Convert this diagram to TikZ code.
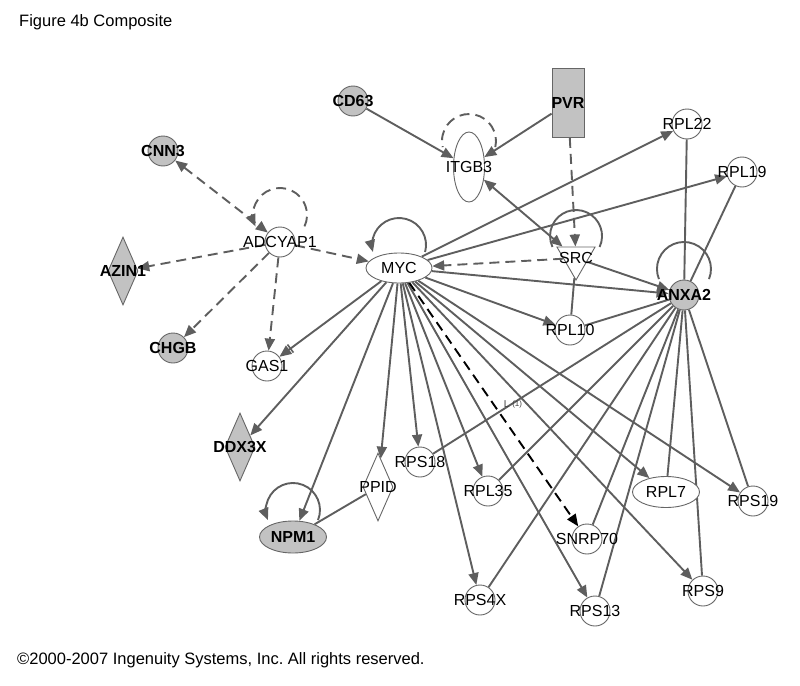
\documentclass[tikz,border=0pt]{standalone}
\usepackage{fontspec}
\setmainfont{Liberation Sans}
\usetikzlibrary{arrows.meta,shapes.geometric}
\pgfdeclarelayer{bg}
\pgfsetlayers{bg,main}
\definecolor{eg}{HTML}{5E5E5E}
\definecolor{ng}{HTML}{C2C2C2}
\definecolor{bd}{HTML}{666666}
\begin{document}
\frenchspacing
\begin{tikzpicture}[x=1pt,y=-1pt,
  lbl/.style={font=\fontsize{16}{16}\selectfont},
  blbl/.style={font=\fontsize{16}{16}\selectfont\bfseries},
  base/.style={draw=bd, line width=0.9pt, inner sep=0pt, fill=white},
  circ/.style={base, circle, minimum size=30pt},
  filled/.style={fill=ng},
  ell/.style={base, ellipse, minimum width=67pt, minimum height=31pt},
  dia/.style={base, diamond, minimum width=30pt, minimum height=68pt},
  ln/.style={draw=eg, line width=1.9pt},
  ar/.style={ln, -{Triangle[length=12pt,width=10pt]}},
  dsh/.style={dash pattern=on 10pt off 6pt},
  inh/.style={ln, -{Bar[width=10pt,line width=1.6pt,sep=1pt] Triangle[length=12pt,width=10pt]}},
  blk/.style={draw=black, line width=1.9pt, dash pattern=on 10pt off 6pt, -{Triangle[length=12pt,width=10pt]}},
  txt/.style={font=\fontsize{16.5}{16.5}\selectfont, anchor=base west, inner sep=0pt}
]
\useasboundingbox (0,0) rectangle (800,685);

\node[txt] (title) at (19,27) {Figure 4b Composite};
\node[txt] (copy) at (17,664) {\textcopyright2000-2007 Ingenuity Systems, Inc. All rights reserved.};

% nodes
\node[circ,filled,label={[blbl]center:CNN3}] (CNN3) at (163,151) {};
\node[circ,filled,label={[blbl]center:CD63}] (CD63) at (353,101) {};
\node[base,filled,rectangle,minimum width=32pt,minimum height=69pt,label={[blbl]center:PVR}] (PVR) at (568,103) {};
\node[base,ellipse,minimum width=31pt,minimum height=70pt,label={[lbl]center:ITGB3}] (ITGB3) at (469,167) {};
\node[circ,label={[lbl]center:ADCYAP1}] (ADCYAP1) at (280,242) {};
\node[dia,filled,label={[blbl]center:AZIN1}] (AZIN1) at (123,271) {};
\node[circ,filled,label={[blbl]center:CHGB}] (CHGB) at (173,348) {};
\node[circ,label={[lbl]center:GAS1}] (GAS1) at (267,366) {};
\node[ell,minimum width=66pt,minimum height=30pt,label={[lbl]center:MYC}] (MYC) at (399,268) {};
\node[base,regular polygon,regular polygon sides=3,shape border rotate=180,minimum size=44pt,label={[lbl]center:SRC}] (SRC) at (576,258) {};
\node[circ,label={[lbl]center:RPL22}] (RPL22) at (687,124) {};
\node[circ,label={[lbl]center:RPL19}] (RPL19) at (742,172) {};
\node[circ,filled,label={[blbl]center:ANXA2}] (ANXA2) at (684,295) {};
\node[circ,label={[lbl]center:RPL10}] (RPL10) at (570,330) {};
\node[dia,filled,label={[blbl]center:DDX3X}] (DDX3X) at (240,447) {};
\node[dia,label={[lbl]center:PPID}] (PPID) at (378,487) {};
\node[ell,filled,minimum height=32pt,label={[blbl]center:NPM1}] (NPM1) at (293,537) {};
\node[circ,label={[lbl]center:RPS18}] (RPS18) at (420,462) {};
\node[circ,label={[lbl]center:RPL35}] (RPL35) at (488,491) {};
\node[ell,label={[lbl]center:RPL7}] (RPL7) at (666,492) {};
\node[circ,label={[lbl]center:RPS19}] (RPS19) at (753,501) {};
\node[circ,label={[lbl]center:SNRP70}] (SNRP70) at (587,539) {};
\node[circ,label={[lbl]center:RPS4X}] (RPS4X) at (480,600) {};
\node[circ,label={[lbl]center:RPS13}] (RPS13) at (595,611) {};
\node[circ,label={[lbl]center:RPS9}] (RPS9) at (703,591) {};

\node[font=\fontsize{10}{10}\selectfont, text=black!75, inner sep=0pt] (Llab) at (513,404) {L \raisebox{1.5pt}{\fontsize{8}{8}\selectfont(1)}};

\begin{pgfonlayer}{bg}
% dashed ADCYAP1 group
\draw[ln,dsh,{Triangle[length=12pt,width=10pt]}-{Triangle[length=12pt,width=10pt]}] (CNN3) -- (ADCYAP1);
\draw[ar,dsh] (ADCYAP1) -- (AZIN1);
\draw[ar,dsh] (ADCYAP1) -- (CHGB);
\draw[ar,dsh] (ADCYAP1) -- (GAS1);
\draw[ar,dsh] (ADCYAP1) -- (MYC);
\draw[ar,dsh] (SRC) -- (MYC);
\draw[ar,dsh] (PVR) -- (SRC);
% loops
\draw[ar,dsh] ([shift={(24.5,-15.6)}]ADCYAP1.center) arc[start angle=25,end angle=-205,radius=27];
\draw[ln,dsh] ([shift={(26.3,-19.9)}]ITGB3.center) arc[start angle=13,end angle=-193,radius=27];
\draw[ar] ([shift={(26.1,-16)}]MYC.center) arc[start angle=15,end angle=-195,radius=27];
\draw[ln] ([shift={(23.6,-11)}]SRC.center) arc[start angle=25,end angle=-205,radius=26];
\draw[ln] ([shift={(25,-15.9)}]ANXA2.center) arc[start angle=22,end angle=-202,radius=27];
\draw[ar] ([shift={(25,-16.9)}]NPM1.center) arc[start angle=22,end angle=-202,radius=27];
% solid
\draw[ar] (CD63) -- (ITGB3);
\draw[ar] (PVR) -- (ITGB3);
\draw[ln,{Triangle[length=12pt,width=10pt]}-{Triangle[length=12pt,width=10pt]}] (ITGB3) -- (SRC);
\draw[inh] (MYC) -- (GAS1);
\foreach \t in {RPL22,RPL19,ANXA2,RPL10,DDX3X,NPM1,PPID,RPS18,RPL35,RPS4X,RPS13,RPL7,RPS9,RPS19}
  \draw[ar] (MYC) -- (\t);
\draw[ar] (SRC) -- (ANXA2);
\draw[ln] (SRC) -- (RPL10);
\foreach \t in {RPL22,RPL19,RPL10,RPS18,RPL35,RPS4X,SNRP70,RPS13,RPL7,RPS9,RPS19}
  \draw[ln] (ANXA2) -- (\t);
\draw[ln] (PPID) -- (NPM1);
\draw[blk] (MYC) -- (SNRP70);
\end{pgfonlayer}
\end{tikzpicture}
\end{document}
